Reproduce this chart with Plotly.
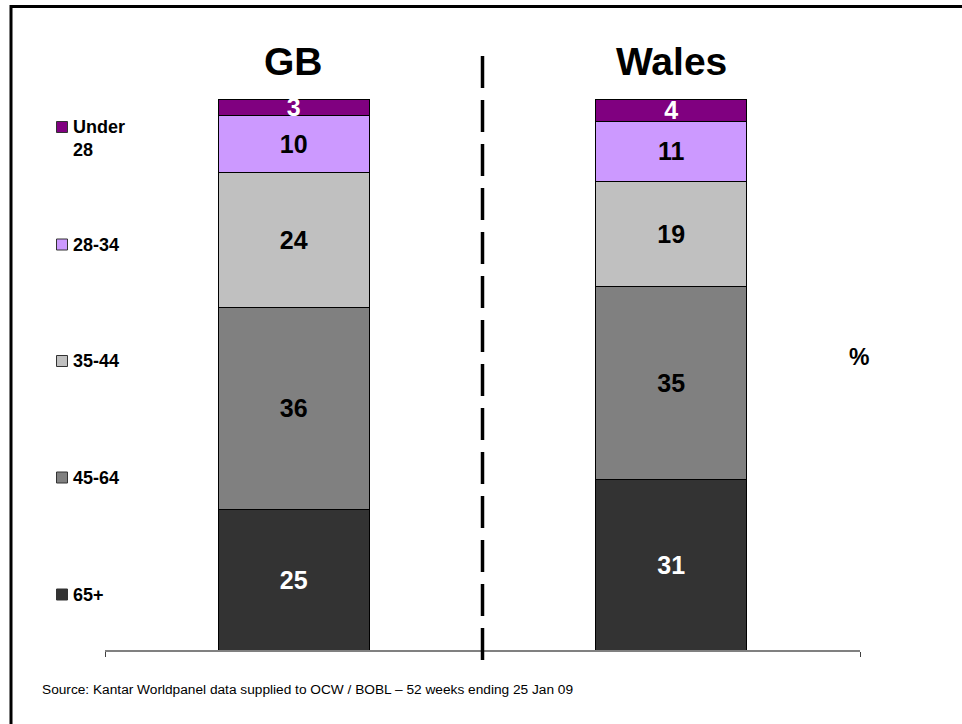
import plotly.graph_objects as go

# Shopper age profile: GB vs Wales (share of shoppers, %)
groups = ["GB", "Wales"]
age_bands = ["65+", "45-64", "35-44", "28-34", "Under 28"]  # bottom to top of stack
gb_share = [25, 36, 24, 10, 3]
wales_share = [31, 35, 19, 11, 4]
band_colors = ["#333333", "#808080", "#C0C0C0", "#CC99FF", "#800080"]
label_colors = ["white", "black", "black", "black", "white"]
source_note = "Source: Kantar Worldpanel data supplied to OCW / BOBL \u2013 52 weeks ending 25 Jan 09"

W, H = 962, 724
ML, MR, MT, MB = 105, 102, 99, 74
PW, PH = W - ML - MR, H - MT - MB
FONT = "Arial, Liberation Sans, sans-serif"


def px(x):
    return (x - ML) / PW


def py(y):
    return (H - MB - y) / PH


fig = go.Figure()
for i, band in enumerate(age_bands):
    vals = [gb_share[i], wales_share[i]]
    fig.add_trace(go.Bar(
        x=groups, y=vals, name=band,
        marker=dict(color=band_colors[i], line=dict(color="black", width=1)),
        width=0.4,
        text=vals, texttemplate="%{text}",
        textposition="inside", insidetextanchor="middle",
        textangle=0, constraintext="none", cliponaxis=False,
        textfont=dict(family=FONT, size=25, color=label_colors[i], weight="bold"),
        showlegend=False,
    ))

fig.update_layout(
    width=W, height=H,
    margin=dict(l=ML, r=MR, t=MT, b=MB),
    paper_bgcolor="white", plot_bgcolor="white",
    barmode="stack", barnorm="percent",
    uniformtext=dict(minsize=25, mode="show"),
    xaxis=dict(range=[-0.5, 1.5], showline=True, linecolor="#808080", linewidth=2,
               ticks="outside", tickson="boundaries", ticklen=5, tickcolor="#404040",
               showticklabels=False, showgrid=False, zeroline=False, fixedrange=True),
    yaxis=dict(range=[0, 100], visible=False, fixedrange=True),
    font=dict(family=FONT),
)

shapes = []
annotations = []

# Frame (top and left edges visible)
shapes.append(dict(type="rect", xref="paper", yref="paper",
                   x0=px(11), x1=px(990), y0=py(6.5), y1=py(760),
                   line=dict(color="black", width=3), fillcolor="rgba(0,0,0,0)"))

# Dashed divider between the two bars
shapes.append(dict(type="line", xref="paper", yref="paper",
                   x0=0.5, x1=0.5, y0=py(56), y1=py(661),
                   line=dict(color="black", width=3.5, dash="32px,12px")))

# Group titles
for g in groups:
    annotations.append(dict(x=g, xref="x", y=py(62), yref="paper", text=g,
                            showarrow=False, xanchor="center", yanchor="middle",
                            font=dict(family=FONT, size=39, color="black", weight="bold")))

# Legend: swatches and labels
legend_y = [594.5, 477.5, 361, 244.5, 127]
for band, col, yc in zip(age_bands, band_colors, legend_y):
    shapes.append(dict(type="rect", xref="paper", yref="paper",
                       x0=px(56.5), x1=px(67.5), y0=py(yc - 5.5), y1=py(yc + 5.5),
                       line=dict(color="#333333", width=1), fillcolor=col))
    label = "Under<br>28" if band == "Under 28" else band
    yy = yc + 11 if band == "Under 28" else yc
    annotations.append(dict(x=px(71), xref="paper", y=py(yy), yref="paper", text=label,
                            showarrow=False, xanchor="left", yanchor="middle", align="left",
                            font=dict(family=FONT, size=18, color="black", weight="bold")))

# Unit marker
annotations.append(dict(x=px(859), xref="paper", y=py(357), yref="paper", text="%",
                        showarrow=False, xanchor="center", yanchor="middle",
                        font=dict(family=FONT, size=23, color="black", weight="bold")))

# Source note
annotations.append(dict(x=px(40), xref="paper", y=py(689), yref="paper", text=source_note,
                        showarrow=False, xanchor="left", yanchor="middle",
                        font=dict(family=FONT, size=13.7, color="black")))

fig.update_layout(shapes=shapes, annotations=annotations)
fig.write_html("out.html")
